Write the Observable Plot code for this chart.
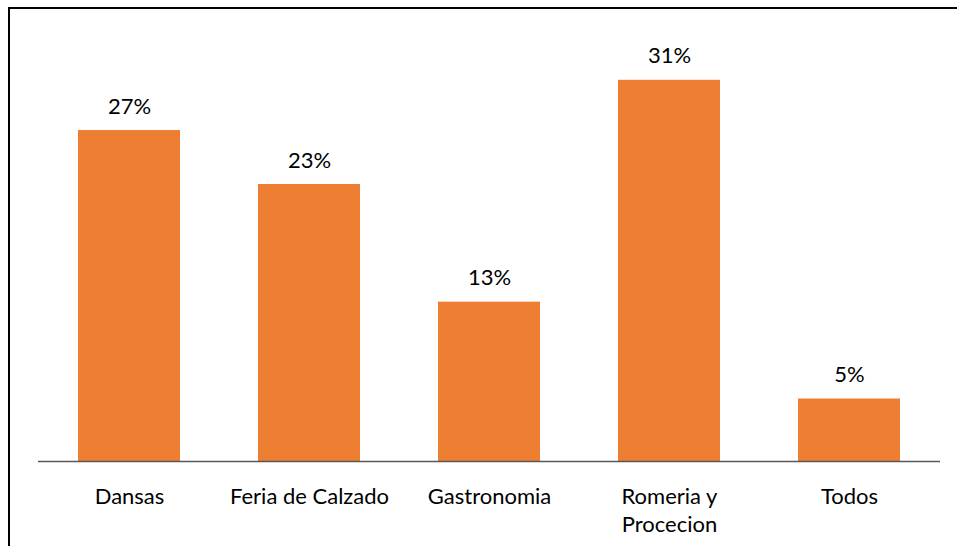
<!DOCTYPE html>
<html>
<head>
<meta charset="utf-8">
<script src="https://cdn.jsdelivr.net/npm/d3@7"></script>
<script src="https://cdn.jsdelivr.net/npm/@observablehq/plot@0.6"></script>
<style>
  html, body { margin: 0; padding: 0; background: #fff; }
  #wrap { position: relative; width: 957px; height: 546px; overflow: hidden; }
  #frame { position: absolute; left: 8px; top: 7px; width: 1000px; height: 600px;
           border-top: 2px solid #000; border-left: 2px solid #000; box-sizing: border-box; }
  #chart { position: absolute; left: 0; top: 0; }
</style>
</head>
<body>
<div id="wrap"><div id="frame"></div><div id="chart"></div></div>
<script>
const categories = ["Dansas", "Feria de Calzado", "Gastronomia", "Romeria y Procecion", "Todos"];
const values = [27.0, 22.6, 13.0, 31.1, 5.1];
const valueLabels = ["27%", "23%", "13%", "31%", "5%"];

const data = categories.map((c, i) => ({category: c, value: values[i], label: valueLabels[i]}));

const chart = Plot.plot({
  width: 957,
  height: 546,
  marginLeft: 38,
  marginRight: 17,
  marginTop: 32,
  marginBottom: 85,
  style: {fontFamily: "Lato, sans-serif", fontSize: "22px", color: "#000", background: "transparent"},
  x: {domain: categories, paddingInner: 0.435, paddingOuter: 0.2175, label: null},
  y: {domain: [0, 35], axis: null},
  marks: [
    Plot.barY(data, {x: "category", y: "value", fill: "#ED7D31"}),
    Plot.ruleY([0], {stroke: "#595959", strokeWidth: 1.5}),
    Plot.text(data, {x: "category", y: "value", text: "label", dy: -24, fontSize: 22, fill: "#000"}),
    Plot.axisX({
      tickSize: 0,
      tickPadding: 23,
      fontSize: 22,
      lineHeight: 1.27,
      fill: "#000",
      tickFormat: d => d.replace(" y ", " y\n")
    })
  ]
});
document.getElementById("chart").appendChild(chart);
</script>
</body>
</html>
